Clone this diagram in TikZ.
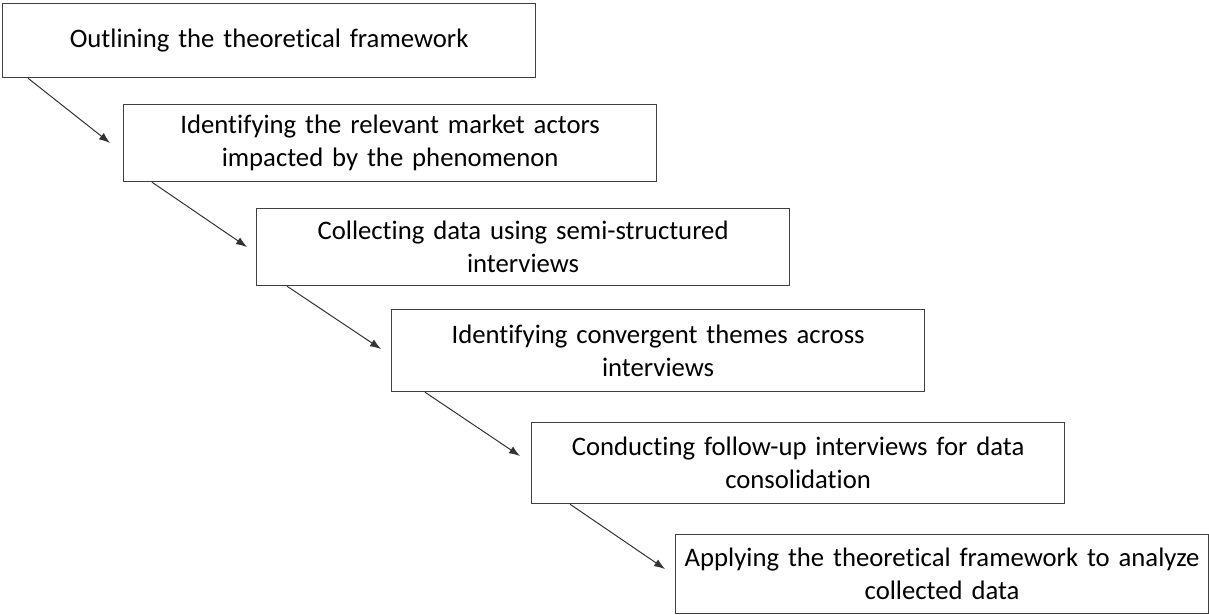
\documentclass[tikz,border=0pt]{standalone}
\usepackage{fontspec}
\setmainfont{Carlito}[Ligatures={NoCommon}]
\usetikzlibrary{arrows.meta,calc}

\tikzset{
  stagebox/.style={draw=black!75, line width=1.2pt, fill=white, anchor=north west,
    minimum width=533, inner sep=0pt, text width=520, align=center,
    font=\fontsize{26.7}{33}\selectfont, text=black},
  flowarrow/.style={draw=black!80, line width=1pt, -{Latex[length=11pt,width=8pt]}}
}

\begin{document}
\begin{tikzpicture}[x=1pt, y=-1pt]
  \useasboundingbox (0,0) rectangle (1209,614);

  % process stages, each shifted down and to the right
  \node[stagebox, minimum height=74] (s1) at (2,3)   {Outlining the theoretical framework};
  \node[stagebox, minimum height=77] (s2) at (123,104) {Identifying the relevant market actors\\impacted by the phenomenon};
  \node[stagebox, minimum height=77] (s3) at (256,208) {Collecting data using semi-structured\\interviews};
  \node[stagebox, minimum height=82] (s4) at (391,309) {Identifying convergent themes across\\interviews};
  \node[stagebox, minimum height=81] (s5) at (531,422) {Conducting follow-up interviews for data\\consolidation};
  \node[stagebox, minimum height=79] (s6) at (675,534) {Applying the theoretical framework to analyze\\collected data};

  % diagonal links between consecutive stages
  \draw[flowarrow] ($(s1.south west)+(26,0)$) -- ($(s2.north west)+(-13,39)$);
  \draw[flowarrow] ($(s2.south west)+(29,0)$) -- ($(s3.north west)+(-9,39)$);
  \draw[flowarrow] ($(s3.south west)+(31,0)$) -- ($(s4.north west)+(-10,40)$);
  \draw[flowarrow] ($(s4.south west)+(34,0)$) -- ($(s5.north west)+(-11,34)$);
  \draw[flowarrow] ($(s5.south west)+(39,0)$) -- ($(s6.north west)+(-10,35)$);
\end{tikzpicture}
\end{document}
